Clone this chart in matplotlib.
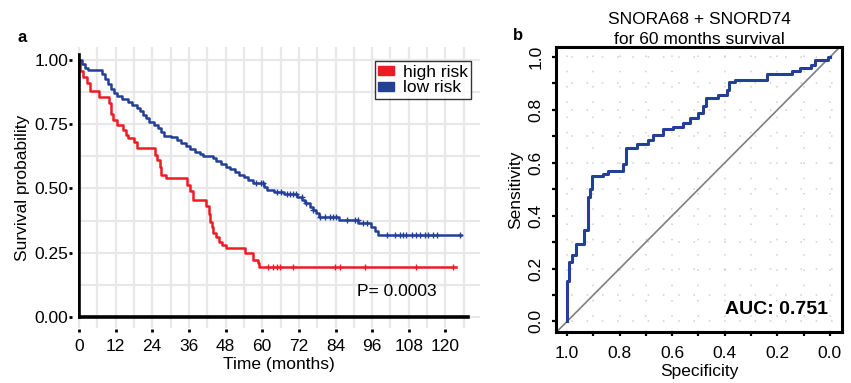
import matplotlib
matplotlib.use("Agg")
import matplotlib.pyplot as plt
from matplotlib.patches import Patch
import numpy as np

plt.rcParams['font.family'] = ['Liberation Sans', 'DejaVu Sans']

# ---- panel a: Kaplan-Meier curves ----
high_t = [0, 0.5, 1.5, 2.5, 3.5, 6.5, 10, 10.5, 11, 12.5, 14.5, 15.5, 16, 18, 19, 25, 25.5,
          26.5, 27, 28.5, 35.5, 36.5, 37.5, 41.5, 42.5, 43, 43.5, 44, 45, 46, 47, 48, 54.5,
          57, 58.5, 59, 123.6]
high_s = [1.0, 0.955, 0.935, 0.909, 0.877, 0.857, 0.832, 0.79, 0.767, 0.747, 0.728, 0.708,
          0.695, 0.682, 0.656, 0.63, 0.611, 0.585, 0.553, 0.54, 0.515, 0.488, 0.455, 0.43,
          0.40, 0.371, 0.35, 0.325, 0.31, 0.293, 0.28, 0.267, 0.248, 0.222, 0.209, 0.196, 0.196]
high_cens = [62, 63.6, 64.7, 65.7, 70.1, 83.8, 85.4, 93.6, 110.5, 122.6]

low_t = [0, 1, 2, 3, 7.5, 8.5, 9.5, 10.5, 11.5, 12.5, 14, 16, 17.5, 19, 20, 21, 22, 23, 24.5,
         26, 27, 28, 30, 32, 33.5, 35, 36.5, 38, 39.5, 40.5, 44, 45, 46.5, 48, 49.5, 51, 52.5,
         54, 55.5, 57, 60.5, 61.5, 64, 67, 71.5, 73, 74, 75.5, 76.5, 77.5, 78.5, 85, 91.5,
         95.5, 97, 98, 125]
low_s = [1.0, 0.985, 0.97, 0.96, 0.945, 0.925, 0.905, 0.885, 0.87, 0.858, 0.848, 0.838, 0.825,
         0.812, 0.8, 0.787, 0.772, 0.76, 0.748, 0.735, 0.718, 0.705, 0.698, 0.688, 0.676, 0.665,
         0.655, 0.642, 0.632, 0.626, 0.619, 0.605, 0.595, 0.585, 0.575, 0.565, 0.553, 0.543,
         0.532, 0.52, 0.507, 0.494, 0.485, 0.477, 0.468, 0.455, 0.442, 0.428, 0.415, 0.403,
         0.39, 0.377, 0.364, 0.351, 0.335, 0.319, 0.319]
low_cens = [58, 59.5, 60.3, 64.7, 66.3, 68, 69.1, 70.1, 71.2, 72.9, 74.5, 76.7, 78.9, 80.5,
            82.2, 83.2, 84.3, 87.6, 90.3, 91.4, 93, 94.2, 100.7, 103.4, 105.1, 106.2, 107.2,
            108.9, 110.5, 111.6, 113.3, 114.3, 116, 117.1, 124.7]

x_ticks = [0, 12, 24, 36, 48, 60, 72, 84, 96, 108, 120]
y_ticks = [0.0, 0.25, 0.5, 0.75, 1.0]
y_labels = ['0.00', '0.25', '0.50', '0.75', '1.00']

# ---- panel b: ROC curve ----
spec = [1.0, 1.0, 0.992, 0.992, 0.98, 0.98, 0.967, 0.967, 0.935, 0.935, 0.921, 0.921, 0.913,
        0.913, 0.906, 0.906, 0.862, 0.862, 0.843, 0.843, 0.786, 0.786, 0.776, 0.776, 0.735,
        0.735, 0.691, 0.691, 0.672, 0.672, 0.634, 0.634, 0.596, 0.596, 0.558, 0.558, 0.532,
        0.532, 0.50, 0.50, 0.482, 0.482, 0.471, 0.471, 0.425, 0.425, 0.393, 0.393, 0.383,
        0.383, 0.361, 0.361, 0.241, 0.241, 0.146, 0.146, 0.114, 0.114, 0.073, 0.073, 0.057,
        0.057, 0.006, 0.006, 0.0]
sens = [0.0, 0.153, 0.153, 0.225, 0.225, 0.25, 0.25, 0.294, 0.294, 0.345, 0.345, 0.471, 0.471,
        0.50, 0.50, 0.55, 0.55, 0.559, 0.559, 0.568, 0.568, 0.595, 0.595, 0.657, 0.657, 0.670,
        0.670, 0.686, 0.686, 0.705, 0.705, 0.727, 0.727, 0.736, 0.736, 0.751, 0.751, 0.768,
        0.768, 0.787, 0.787, 0.814, 0.814, 0.846, 0.846, 0.856, 0.856, 0.877, 0.877, 0.907,
        0.907, 0.913, 0.913, 0.936, 0.936, 0.948, 0.948, 0.957, 0.957, 0.97, 0.97, 0.989,
        0.989, 1.0, 1.0]
auc = 0.751

red = '#ec1c24'
blue = '#233f98'
fs = 12.5


def surv_at(times, surv, c):
    return surv[np.searchsorted(times, c, side='right') - 1]


fig = plt.figure(figsize=(8.51, 3.83), dpi=100)

# ======== panel a ========
ax1 = fig.add_axes([78/851, 55/383, 402/851, 281/383])
xlo, xhi = -0.3, 131.3
ylo, yhi = -0.043, 1.05
ax1.set_xlim(xlo, xhi)
ax1.set_ylim(ylo, yhi)
ax1.set_xticks(x_ticks)
ax1.set_xticks(np.arange(6, 131, 12), minor=True)
ax1.set_yticks(y_ticks)
ax1.set_yticklabels(y_labels)
ax1.set_yticks([0.125, 0.375, 0.625, 0.875], minor=True)
ax1.grid(True, which='both', color='#e8e8e8', lw=1.6)
ax1.set_axisbelow(True)
for s in ax1.spines.values():
    s.set_visible(False)
ax1.spines['left'].set_position(('outward', 4))
ax1.spines['bottom'].set_position(('outward', 1))
ax1.tick_params(which='major', length=2, width=2, color='black', labelsize=fs)
ax1.tick_params(axis='x', pad=5)
ax1.tick_params(axis='y', pad=1)
ax1.tick_params(which='minor', length=0)

ax1.step(high_t, high_s, where='post', color=red, lw=1.8)
ax1.step(low_t, low_s, where='post', color=blue, lw=1.8)
ax1.plot(high_cens, [surv_at(high_t, high_s, c) for c in high_cens], '+', color=red, ms=5, mew=1)
ax1.plot(low_cens, [surv_at(low_t, low_s, c) for c in low_cens], '+', color=blue, ms=5, mew=1)

# axis lines at zero
ax1.axvline(0, ymin=(0 - ylo)/(yhi - ylo), ymax=(1.02 - ylo)/(yhi - ylo), color='black', lw=2.6)
ax1.axhline(0, xmin=(0 - xlo)/(xhi - xlo), xmax=(127.5 - xlo)/(xhi - xlo), color='black', lw=2.6)

ax1.set_xlabel('Time (months)', fontsize=fs, labelpad=2)
ax1.set_ylabel('Survival probability', fontsize=fs, labelpad=3)
ax1.text(91, 0.08, 'P= 0.0003', fontsize=fs)

leg = ax1.legend(handles=[Patch(color=red, label='high risk'), Patch(color=blue, label='low risk')],
                 loc='upper right', bbox_to_anchor=(0.978, 0.95), fontsize=fs, frameon=True,
                 fancybox=False, edgecolor='black', handlelength=0.9, handleheight=0.45,
                 handletextpad=0.5, borderpad=0.2, labelspacing=0.05, borderaxespad=0)
leg.get_frame().set_linewidth(1.0)

fig.text(17/851, 1 - 37/383, 'a', fontsize=12, fontweight='bold', va='center')

# ======== panel b ========
ax2 = fig.add_axes([556/851, 51/383, 286/851, 285/383])
ax2.set_xlim(1.042, -0.046)
ax2.set_ylim(-0.04, 1.038)
ax2.set_xticks(np.round(np.arange(0, 1.01, 0.2), 1))
ax2.set_yticks(np.round(np.arange(0, 1.01, 0.2), 1))
ax2.set_xticks(np.round(np.arange(0.1, 1.0, 0.2), 1), minor=True)
ax2.set_yticks(np.round(np.arange(0.1, 1.0, 0.2), 1), minor=True)
ax2.set_xticklabels(['0.0', '0.2', '0.4', '0.6', '0.8', '1.0'])
ax2.set_yticklabels(['0.0', '0.2', '0.4', '0.6', '0.8', '1.0'], rotation=90, va='center')
ax2.grid(True, which='both', color='#cfcfcf', lw=1.1, ls=(0, (1, 9)))
ax2.set_axisbelow(True)
for s in ax2.spines.values():
    s.set_linewidth(2.2)
ax2.tick_params(which='both', length=3, width=1.6, color='black', labelsize=fs)
ax2.tick_params(axis='x', pad=7)
ax2.tick_params(axis='y', pad=6)

ax2.axline((1, 0), slope=-1, color='#7f7f7f', lw=1.2)
ax2.plot(spec, sens, color=blue, lw=2.2)
ax2.text(0.006, 0.045, f'AUC: {auc:.3f}', fontsize=14, fontweight='bold', ha='right', va='center')
ax2.set_xlabel('Specificity', fontsize=fs, labelpad=2)
ax2.set_ylabel('Sensitivity', fontsize=fs, labelpad=4)
ax2.set_title('SNORA68 + SNORD74\nfor 60 months survival', fontsize=fs, pad=1, linespacing=1.4)

fig.text(513/851, 1 - 35/383, 'b', fontsize=12, fontweight='bold', va='center')

fig.savefig('out.png', dpi=100)
